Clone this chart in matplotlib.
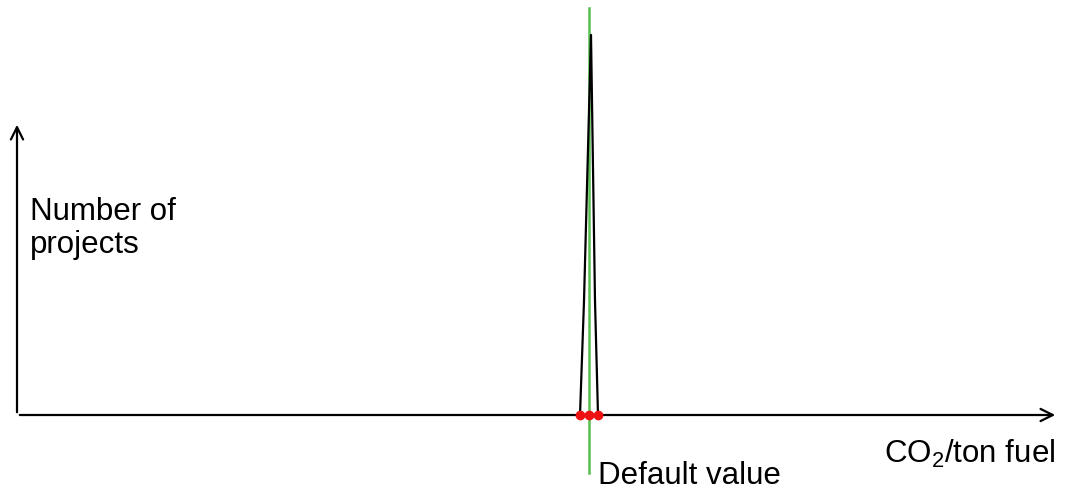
import matplotlib
matplotlib.use("Agg")
import matplotlib.pyplot as plt

# Data (arbitrary units: x = CO2/ton fuel, y = number of projects)
spike_x = [56.3, 56.7, 57.4, 57.8, 58.1]
spike_y = [0, 30, 100, 30, 0]
default_value = 57.2
marker_x = [56.3, 57.2, 58.1]
marker_y = [0, 0, 0]
y_label = "Number of\nprojects"
x_label = "CO$_2$/ton fuel"
default_label = "Default value"

plt.rcParams['font.family'] = ['Liberation Sans', 'DejaVu Sans']
plt.rcParams['mathtext.fontset'] = 'custom'
plt.rcParams['mathtext.rm'] = 'Liberation Sans'

fig = plt.figure(figsize=(10.66, 4.95), dpi=100)
ax = fig.add_axes([0, 0, 1, 1])
ax.set_xlim(-1.7, 104.9)
ax.set_ylim(-21.05, 109.2)
ax.axis('off')

# axes arrows
ax.annotate('', xy=(104.1, 0), xytext=(0, 0),
            arrowprops=dict(arrowstyle='->', lw=1.6, color='black', mutation_scale=22))
ax.annotate('', xy=(0, 77.1), xytext=(0, 0),
            arrowprops=dict(arrowstyle='->', lw=1.6, color='black', mutation_scale=22))

# default value line
ax.plot([default_value, default_value], [-15.3, 107.1], color='#55c04f', lw=1.8, zorder=2)

# spike distribution
ax.plot(spike_x, spike_y, color='black', lw=1.6, zorder=3)

# red markers
ax.plot(marker_x, marker_y, 'o', color='#ee1111', markersize=6, zorder=4)

ax.text(1.3, 49.0, y_label, fontsize=22.5, va='center', ha='left', linespacing=1.12)
ax.text(58.1, -16.0, default_label, fontsize=22.5, va='center', ha='left')
ax.text(103.8, -10.3, x_label, fontsize=22.5, va='center', ha='right')

fig.savefig('out.png', dpi=100)
